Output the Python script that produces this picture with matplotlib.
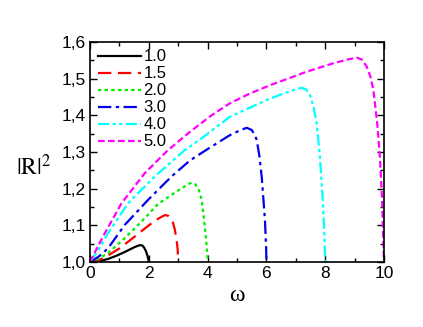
import matplotlib
matplotlib.use("Agg")
import matplotlib.pyplot as plt
from matplotlib.ticker import MultipleLocator, FuncFormatter

labels = ["1.0", "1.5", "2.0", "3.0", "4.0", "5.0"]

w_10 = [0, 0.3, 0.6, 0.9, 1.2, 1.5, 1.62, 1.7, 1.78, 1.85, 1.91, 1.95, 1.98, 2.0]
r_10 = [1.0, 1.002, 1.008, 1.017, 1.028, 1.040, 1.044, 1.046, 1.045, 1.038, 1.028, 1.018, 1.009, 1.0]

w_15 = [0, 0.3, 0.6, 1.0, 1.5, 2.0, 2.3, 2.45, 2.56, 2.66, 2.75, 2.82, 2.88, 2.94, 2.98, 3.0]
r_15 = [1.0, 1.005, 1.017, 1.037, 1.068, 1.100, 1.117, 1.124, 1.128, 1.126, 1.118, 1.108, 1.090, 1.064, 1.035, 1.0]

w_20 = [0, 0.3, 0.61, 1.18, 1.75, 2.31, 2.88, 3.2, 3.38, 3.46, 3.58, 3.69, 3.80, 3.88, 3.95, 3.99, 4.0]
r_20 = [1.0, 1.009, 1.024, 1.065, 1.110, 1.158, 1.189, 1.205, 1.214, 1.216, 1.212, 1.199, 1.169, 1.115, 1.060, 1.02, 1.0]

w_30 = [0, 0.3, 0.61, 1.18, 1.97, 2.77, 3.4, 4.08, 4.76, 5.1, 5.33, 5.5, 5.6, 5.67, 5.76, 5.84, 5.95, 5.99, 6.0]
r_30 = [1.0, 1.015, 1.037, 1.101, 1.169, 1.233, 1.277, 1.312, 1.346, 1.359, 1.366, 1.360, 1.347, 1.333, 1.290, 1.233, 1.115, 1.04, 1.0]

w_40 = [0, 0.3, 0.61, 1.29, 2.2, 3.22, 3.74, 4.76, 6.01, 6.6, 7.0, 7.2, 7.35, 7.48, 7.6, 7.71, 7.82, 7.91, 7.97, 8.0]
r_40 = [1.0, 1.035, 1.078, 1.160, 1.233, 1.305, 1.334, 1.396, 1.442, 1.460, 1.471, 1.475, 1.471, 1.455, 1.425, 1.378, 1.287, 1.178, 1.078, 1.0]

w_50 = [0, 0.25, 0.5, 1.07, 1.86, 2.65, 3.4, 4.1, 4.76, 5.4, 6.12, 6.8, 7.37, 8.28, 8.8, 9.09, 9.25, 9.41, 9.54, 9.64, 9.77, 9.86, 9.93, 9.97, 10.0]
r_50 = [1.0, 1.04, 1.078, 1.160, 1.242, 1.305, 1.355, 1.398, 1.433, 1.458, 1.482, 1.502, 1.519, 1.542, 1.553, 1.557, 1.552, 1.533, 1.505, 1.469, 1.378, 1.287, 1.178, 1.078, 1.0]

series = [(w_10, r_10), (w_15, r_15), (w_20, r_20), (w_30, r_30), (w_40, r_40), (w_50, r_50)]
colors = ["black", "#ff0000", "#00ee00", "#0000ee", "#00ffff", "#ff00ff"]
dashes = [None, (6, 3), (1.5, 1.5), (6, 2, 1.5, 2), (5, 1.5, 1.5, 1.5, 1.5, 1.5), (3, 1.5)]

plt.rcParams['font.family'] = ['Liberation Sans', 'DejaVu Sans']
plt.rcParams['mathtext.fontset'] = 'stix'

fig = plt.figure(figsize=(4.23, 3.27), dpi=100)
ax = fig.add_axes([0.2128, 0.1988, 0.695, 0.6728])

for (w, r), c, d, lab in zip(series, colors, dashes, labels):
    line, = ax.plot(w, r, color=c, lw=1.6, label=lab)
    if d is not None:
        line.set_dashes(d)

ax.set_xlim(0, 10)
ax.set_ylim(1.0, 1.6)
ax.xaxis.set_major_locator(MultipleLocator(2))
ax.xaxis.set_minor_locator(MultipleLocator(1))
ax.yaxis.set_major_locator(MultipleLocator(0.1))
ax.yaxis.set_minor_locator(MultipleLocator(0.05))
ax.yaxis.set_major_formatter(FuncFormatter(lambda v, p: f"{v:.1f}".replace('.', ',')))
ax.tick_params(which='both', direction='in', top=True, right=True, labelsize=12.5, width=1)
ax.tick_params(which='major', length=5, pad=3)
ax.tick_params(which='minor', length=3)
for s in ax.spines.values():
    s.set_linewidth(1.2)

ax.set_xlabel('ω', fontsize=17, family='Liberation Serif', labelpad=3)
ax.set_ylabel(r'$\left|\mathrm{R}\right|^2$', fontsize=17, rotation=0)
ax.yaxis.set_label_coords(-0.19, 0.37)

ax.legend(loc='upper left', frameon=False, fontsize=12, handlelength=2.6,
          handletextpad=0.15, labelspacing=0.12, borderaxespad=0.25, borderpad=0.2)

fig.savefig("out.png", dpi=100)
